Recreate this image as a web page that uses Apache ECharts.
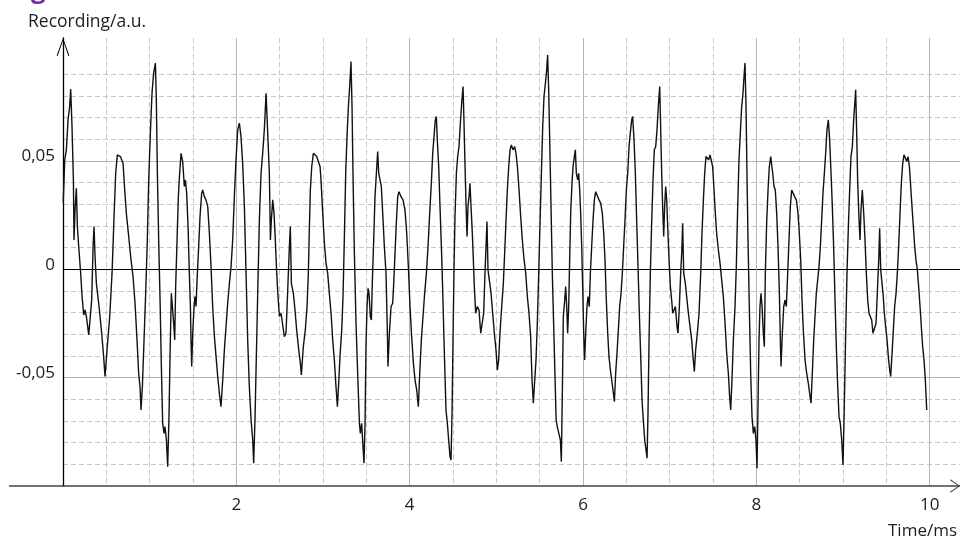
<!DOCTYPE html>
<html>
<head>
<meta charset="utf-8">
<script src="https://cdn.jsdelivr.net/npm/echarts@6/dist/echarts.min.js"></script>
<style>
html,body{margin:0;padding:0;background:#fff;}
#chart{width:960px;height:541px;}
</style>
</head>
<body>
<div id="chart"></div>
<script>
// ---- data: [time in ms, recording in a.u.] ----
const wave0to2 = [[0.003,0.031],[0.020,0.0505],[0.039,0.0551],[0.058,0.0689],[0.077,0.0751],[0.089,0.0831],[0.104,0.0658],[0.120,0.0412],[0.127,0.0135],[0.139,0.0274],[0.154,0.0374],[0.166,0.0197],[0.181,0.0105],[0.204,-0.0018],[0.220,-0.0126],[0.239,-0.0211],[0.254,-0.0188],[0.270,-0.0218],[0.297,-0.0303],[0.320,-0.0295],[0.331,-0.0142],[0.347,0.0105],[0.358,0.0197],[0.370,0.0058],[0.385,-0.0065],[0.416,-0.0172],[0.443,-0.028],[0.466,-0.0388],[0.485,-0.0495],[0.508,-0.0372],[0.539,-0.0218],[0.566,-0.0018],[0.589,0.0243],[0.608,0.0443],[0.627,0.0528],[0.647,0.0535],[0.662,0.052],[0.677,0.0528],[0.693,0.0489],[0.712,0.0366],[0.731,0.0258],[0.758,0.0151],[0.781,0.0058],[0.808,-0.0034],[0.831,-0.0157],[0.854,-0.0326],[0.873,-0.048],[0.889,-0.0542],[0.900,-0.0649],[0.916,-0.0542],[0.935,-0.0326],[0.954,-0.0111],[0.973,0.0135],[0.989,0.0412],[1.008,0.0628],[1.027,0.0812],[1.046,0.0905],[1.066,0.0951],[1.077,0.0782],[1.089,0.0443],[1.104,0.0135],[1.120,-0.0142],[1.135,-0.0449],[1.150,-0.0711],[1.166,-0.0757],[1.177,-0.0726],[1.193,-0.0788],[1.208,-0.0911],[1.223,-0.068],[1.235,-0.0403],[1.250,-0.0111],[1.262,-0.0111],[1.277,-0.0249],[1.289,-0.0326],[1.300,-0.008],[1.316,0.0135],[1.331,0.0335],[1.346,0.0443],[1.362,0.0535],[1.373,0.0535],[1.381,0.0497],[1.400,0.0382],[1.412,0.0412],[1.427,0.0351],[1.443,0.0197],[1.458,-0.0018],[1.470,-0.0172],[1.477,-0.0326],[1.485,-0.0449],[1.497,-0.0295],[1.512,-0.0172],[1.523,-0.0126],[1.535,-0.0172],[1.547,-0.0049],[1.562,0.0074],[1.581,0.0243],[1.600,0.0351],[1.612,0.0366],[1.631,0.0335],[1.650,0.032],[1.670,0.0289],[1.689,0.0166],[1.708,0.0012],[1.727,-0.0172],[1.747,-0.0311],[1.766,-0.0403],[1.785,-0.0495],[1.804,-0.0572],[1.823,-0.0634],[1.843,-0.0511],[1.862,-0.0372],[1.881,-0.0265],[1.900,-0.0157],[1.920,-0.0065],[1.939,0.0012],[1.958,0.0135],[1.977,0.0335],[1.996,0.0505]];
const wave2to4 = [[2.016,0.0643],[2.035,0.0674],[2.054,0.0612],[2.073,0.0489],[2.093,0.0289],[2.112,-0.0018],[2.131,-0.0326],[2.150,-0.0542],[2.170,-0.0695],[2.189,-0.0788],[2.200,-0.0895],[2.216,-0.068],[2.235,-0.0326],[2.250,-0.0049],[2.266,0.0228],[2.285,0.0443],[2.304,0.0535],[2.323,0.0643],[2.343,0.0812],[2.362,0.0628],[2.381,0.0443],[2.393,0.0135],[2.404,0.0228],[2.420,0.032],[2.435,0.0258],[2.450,0.0135],[2.466,-0.0018],[2.481,-0.0126],[2.497,-0.0218],[2.516,-0.0203],[2.535,-0.0203],[2.554,-0.0311],[2.573,-0.0295],[2.593,-0.0095],[2.612,0.0105],[2.623,0.0197],[2.635,-0.0065],[2.658,-0.0111],[2.677,-0.0188],[2.696,-0.028],[2.720,-0.0372],[2.739,-0.0434],[2.750,-0.0488],[2.773,-0.0357],[2.796,-0.028],[2.816,-0.0172],[2.831,-0.0018],[2.843,0.0197],[2.854,0.0366],[2.870,0.0474],[2.889,0.0535],[2.908,0.0543],[2.927,0.052],[2.946,0.0528],[2.966,0.0474],[2.977,0.0412],[2.997,0.0258],[3.016,0.012],[3.035,0.0028],[3.054,-0.0018],[3.073,-0.0111],[3.093,-0.0203],[3.112,-0.0326],[3.131,-0.0418],[3.150,-0.0542],[3.166,-0.0634],[3.181,-0.0526],[3.196,-0.0403],[3.216,-0.028],[3.231,-0.0126],[3.246,0.0135],[3.262,0.0443],[3.277,0.0612],[3.293,0.0751],[3.308,0.0843],[3.323,0.0958],[3.335,0.0751],[3.346,0.0443],[3.362,0.0074],[3.381,-0.0249],[3.400,-0.048],[3.420,-0.0711],[3.431,-0.0757],[3.446,-0.0711],[3.462,-0.0711],[3.473,-0.0895],[3.485,-0.0711],[3.496,-0.0357],[3.508,-0.0172],[3.520,-0.0088],[3.531,-0.0111],[3.546,-0.0218],[3.558,-0.0234],[3.570,-0.0049],[3.585,0.0135],[3.600,0.0335],[3.616,0.0443],[3.631,0.0543],[3.643,0.0443],[3.658,0.0412],[3.673,0.0382],[3.689,0.0258],[3.708,0.0105],[3.727,-0.0018],[3.743,-0.0295],[3.750,-0.0449],[3.766,-0.0295],[3.785,-0.0172],[3.804,-0.0157],[3.816,-0.0065],[3.831,0.0074],[3.846,0.0212],[3.862,0.0335],[3.877,0.0358],[3.900,0.0335],[3.923,0.032],[3.946,0.0274],[3.966,0.0166],[3.985,0.0012]];
const wave4to6 = [[4.004,-0.0172],[4.023,-0.0311],[4.043,-0.0434],[4.062,-0.0511],[4.081,-0.0557],[4.100,-0.0634],[4.116,-0.048],[4.135,-0.0326],[4.154,-0.0218],[4.173,-0.0111],[4.193,-0.0018],[4.212,0.0105],[4.231,0.0258],[4.250,0.0397],[4.266,0.0535],[4.281,0.0612],[4.296,0.0689],[4.308,0.0705],[4.319,0.0597],[4.335,0.0474],[4.350,0.0289],[4.366,0.0105],[4.381,-0.0095],[4.396,-0.0326],[4.408,-0.0495],[4.419,-0.0649],[4.435,-0.0711],[4.450,-0.0788],[4.466,-0.0865],[4.477,-0.088],[4.489,-0.0665],[4.500,-0.0326],[4.512,0.0012],[4.523,0.0243],[4.539,0.0443],[4.554,0.052],[4.569,0.0566],[4.585,0.0674],[4.600,0.0766],[4.616,0.0843],[4.627,0.0674],[4.639,0.0474],[4.650,0.0305],[4.662,0.0151],[4.673,0.0289],[4.685,0.0335],[4.696,0.0397],[4.708,0.0289],[4.723,0.0166],[4.735,0.0043],[4.746,-0.008],[4.762,-0.0203],[4.781,-0.0172],[4.800,-0.0188],[4.820,-0.0295],[4.839,-0.0295],[4.854,-0.0203],[4.869,-0.0018],[4.881,0.0105],[4.892,0.022],[4.904,-0.0003],[4.919,-0.0049],[4.939,-0.0111],[4.958,-0.0203],[4.977,-0.0295],[4.996,-0.0372],[5.012,-0.0465],[5.027,-0.0418],[5.042,-0.0295],[5.062,-0.0172],[5.081,-0.0065],[5.096,0.0074],[5.112,0.0228],[5.127,0.0366],[5.143,0.0474],[5.158,0.0551],[5.173,0.0574],[5.192,0.0551],[5.212,0.0566],[5.227,0.0535],[5.243,0.0474],[5.262,0.0366],[5.281,0.0243],[5.300,0.0135],[5.320,0.0043],[5.339,-0.0018],[5.358,-0.0126],[5.377,-0.0203],[5.396,-0.0311],[5.412,-0.0511],[5.427,-0.0618],[5.443,-0.0511],[5.458,-0.0418],[5.473,-0.0249],[5.489,-0.0018],[5.504,0.0212],[5.520,0.0443],[5.535,0.0658],[5.550,0.0797],[5.566,0.0858],[5.581,0.092],[5.592,0.0989],[5.604,0.0828],[5.616,0.0597],[5.631,0.0289],[5.646,-0.0018],[5.662,-0.0265],[5.677,-0.0495],[5.690,-0.0695],[5.703,-0.0726],[5.719,-0.0726],[5.739,-0.0788],[5.750,-0.0888],[5.762,-0.0557],[5.773,-0.0218],[5.789,-0.0142],[5.800,-0.008],[5.812,-0.0172],[5.823,-0.0295],[5.835,-0.0172],[5.846,0.0043],[5.858,0.0258],[5.873,0.0397],[5.885,0.0474],[5.900,0.052],[5.912,0.0551],[5.923,0.0443],[5.939,0.0412],[5.950,0.0443],[5.962,0.0366],[5.973,0.0258],[5.985,0.0105],[5.996,-0.008]];
const wave6to8 = [[6.008,-0.0295],[6.019,-0.0418],[6.031,-0.0295],[6.046,-0.0172],[6.058,-0.0126],[6.073,-0.0172],[6.085,-0.0018],[6.100,0.0105],[6.116,0.0228],[6.131,0.032],[6.146,0.0358],[6.166,0.0351],[6.185,0.032],[6.204,0.0305],[6.223,0.0258],[6.239,0.0166],[6.254,0.0043],[6.269,-0.0142],[6.285,-0.0295],[6.300,-0.0403],[6.316,-0.0465],[6.331,-0.0511],[6.346,-0.0557],[6.362,-0.0611],[6.377,-0.048],[6.392,-0.0388],[6.408,-0.028],[6.423,-0.0172],[6.439,-0.0111],[6.454,-0.0018],[6.469,0.0105],[6.485,0.0228],[6.500,0.0366],[6.516,0.0443],[6.531,0.0566],[6.546,0.0628],[6.562,0.0689],[6.573,0.0705],[6.589,0.0597],[6.604,0.0443],[6.619,0.0228],[6.635,0.0012],[6.650,-0.0203],[6.666,-0.0403],[6.681,-0.0603],[6.696,-0.0695],[6.712,-0.0788],[6.727,-0.0834],[6.739,-0.0872],[6.750,-0.0665],[6.762,-0.0326],[6.777,-0.0018],[6.792,0.0212],[6.808,0.0412],[6.823,0.0551],[6.839,0.0566],[6.854,0.0643],[6.869,0.0751],[6.885,0.0843],[6.896,0.0658],[6.908,0.0443],[6.919,0.0289],[6.931,0.0151],[6.942,0.0289],[6.954,0.0382],[6.966,0.032],[6.977,0.0197],[6.993,0.0043],[7.008,-0.008],[7.023,-0.0142],[7.035,-0.0203],[7.050,-0.0188],[7.066,-0.0172],[7.085,-0.0265],[7.096,-0.0295],[7.112,-0.0172],[7.127,-0.0018],[7.139,0.0074],[7.150,0.0212],[7.162,-0.0018],[7.181,-0.0065],[7.196,-0.0126],[7.216,-0.0203],[7.235,-0.0265],[7.254,-0.0326],[7.269,-0.0403],[7.285,-0.0472],[7.300,-0.0372],[7.319,-0.0295],[7.339,-0.0203],[7.358,-0.0018],[7.373,0.0166],[7.389,0.032],[7.404,0.0443],[7.419,0.052],[7.435,0.0528],[7.450,0.0505],[7.466,0.0528],[7.481,0.052],[7.496,0.0474],[7.512,0.0366],[7.527,0.0258],[7.542,0.0166],[7.562,0.0089],[7.581,0.0028],[7.600,-0.0049],[7.619,-0.0126],[7.639,-0.0249],[7.658,-0.0388],[7.677,-0.048],[7.692,-0.0588],[7.704,-0.0649],[7.719,-0.0511],[7.735,-0.0326],[7.754,-0.0172],[7.769,0.0012],[7.785,0.0289],[7.800,0.0505],[7.815,0.0628],[7.831,0.0751],[7.846,0.0812],[7.858,0.0889],[7.869,0.0951],[7.881,0.0751],[7.892,0.0443],[7.904,0.0135],[7.919,-0.0172],[7.935,-0.048],[7.950,-0.068],[7.966,-0.0757],[7.981,-0.0726],[7.996,-0.0788]];
const wave8to10 = [[8.008,-0.0918],[8.019,-0.0634],[8.031,-0.0326],[8.042,-0.0172],[8.054,-0.0111],[8.066,-0.0172],[8.081,-0.0295],[8.092,-0.0357],[8.104,-0.0018],[8.119,0.0212],[8.135,0.0366],[8.150,0.0474],[8.166,0.052],[8.177,0.0528],[8.189,0.0443],[8.204,0.0382],[8.219,0.0366],[8.235,0.0258],[8.250,0.0105],[8.266,-0.0111],[8.277,-0.0326],[8.285,-0.0449],[8.300,-0.0295],[8.316,-0.0172],[8.331,-0.0142],[8.346,-0.0172],[8.362,-0.0018],[8.377,0.0135],[8.392,0.0289],[8.408,0.0366],[8.423,0.0358],[8.442,0.0335],[8.462,0.032],[8.481,0.0258],[8.496,0.0166],[8.512,0.0043],[8.527,-0.0142],[8.542,-0.028],[8.562,-0.0418],[8.581,-0.048],[8.600,-0.0526],[8.615,-0.0572],[8.631,-0.0618],[8.646,-0.048],[8.662,-0.0326],[8.677,-0.0218],[8.692,-0.0111],[8.708,-0.0049],[8.723,0.0012],[8.739,0.0105],[8.754,0.0228],[8.769,0.0351],[8.785,0.0443],[8.800,0.0535],[8.815,0.0643],[8.831,0.0689],[8.846,0.0597],[8.862,0.0443],[8.877,0.0289],[8.892,0.0105],[8.908,-0.0142],[8.923,-0.0357],[8.939,-0.0542],[8.954,-0.068],[8.969,-0.0711],[8.985,-0.0788],[9.000,-0.0903],[9.015,-0.0634],[9.031,-0.0295],[9.046,-0.0018],[9.062,0.0197],[9.077,0.0366],[9.092,0.052],[9.108,0.0566],[9.123,0.0689],[9.139,0.0782],[9.146,0.0828],[9.158,0.0628],[9.169,0.0412],[9.185,0.0228],[9.196,0.0135],[9.208,0.0274],[9.223,0.0366],[9.239,0.0258],[9.254,0.0135],[9.269,-0.0018],[9.285,-0.0142],[9.300,-0.0203],[9.315,-0.0203],[9.331,-0.0234],[9.346,-0.0295],[9.365,-0.0303],[9.381,-0.0249],[9.396,-0.0111],[9.412,0.0043],[9.423,0.0189],[9.435,-0.0003],[9.446,-0.0049],[9.462,-0.0111],[9.477,-0.0203],[9.492,-0.0265],[9.508,-0.0326],[9.523,-0.0403],[9.539,-0.0465],[9.550,-0.0495],[9.566,-0.0388],[9.581,-0.028],[9.596,-0.0172],[9.612,-0.0111],[9.627,-0.0018],[9.642,0.0105],[9.658,0.0258],[9.673,0.0397],[9.689,0.0489],[9.704,0.0528],[9.719,0.0528],[9.735,0.0497],[9.750,0.052],[9.766,0.0474],[9.781,0.0382],[9.796,0.0289],[9.812,0.0197],[9.827,0.0105],[9.842,0.0043],[9.858,-0.0003],[9.873,-0.008],[9.889,-0.0172],[9.904,-0.0265],[9.919,-0.0357],[9.935,-0.0418],[9.950,-0.0511],[9.966,-0.0649]];

// axis ranges / tick values
const xRange = [0, 10.35];
const yRange = [-0.1, 0.1067];
const xMajorStep = 2, xMinorStep = 0.5;
const yMajorStep = 0.05, yMinorStep = 0.01;
const yLabelValues = [-0.05, 0, 0.05];
const xAxisTitle = 'Time/ms';
const yAxisTitle = 'Recording/a.u.';

const waveform = [].concat(wave0to2, wave2to4, wave4to6, wave6to8, wave8to10);

const FONT = '"Open Sans", "Noto Sans", sans-serif';
const TXT = '#1e1e1e';
const MINOR = '#c8c8c8';
const MAJOR = '#b4b4b4';
const T = 'rgba(0,0,0,0)';
// open chevron arrow heads (pointing "up" in symbol space)
const arrowY = 'path://M0,18 L6.5,0 L13,18 L12,18.4 L6.5,2.6 L1,18.4 Z';
const arrowX = 'path://M0,10 L7,0 L14,10 L13,10.5 L7,1.6 L1,10.5 Z';

function fmtY(v) {
  for (const t of yLabelValues) {
    if (Math.abs(v - t) < 1e-9) return t === 0 ? '0' : t.toFixed(2).replace('.', ',');
  }
  return '';
}

const chart = echarts.init(document.getElementById('chart'), null, {renderer: 'canvas'});
chart.setOption({
  animation: false,
  backgroundColor: '#fff',
  grid: {left: 63, right: 0, top: 38, bottom: 55, outerBoundsMode: 'none', containLabel: false},
  xAxis: [
    {
      type: 'value', min: xRange[0], max: xRange[1], interval: xMajorStep,
      axisLine: {show: true, onZero: false, lineStyle: {color: '#444', width: 1.5},
        symbol: ['none', arrowX], symbolSize: [14, 10], symbolOffset: [0, -5]},
      axisTick: {show: false},
      axisLabel: {show: true, showMinLabel: false, showMaxLabel: false, margin: 11,
        fontFamily: FONT, fontSize: 17, color: TXT,
        formatter: v => String(Math.round(v))},
      splitLine: {show: true, showMaxLine: false, lineStyle: {color: MAJOR, width: 1, type: 'solid'}}
    },
    {
      type: 'value', min: xRange[0], max: xRange[1], interval: xMinorStep, position: 'bottom',
      axisLine: {show: false}, axisTick: {show: false}, axisLabel: {show: false},
      splitLine: {show: true, showMaxLine: false, lineStyle: {color: [T, MINOR, MINOR, MINOR], width: 1, type: [5, 3]}}
    }
  ],
  yAxis: [
    {
      type: 'value', min: yRange[0], max: yRange[1], interval: yMajorStep,
      axisLine: {show: true, onZero: false, lineStyle: {color: '#000', width: 1.3},
        symbol: ['none', arrowY], symbolSize: [13, 18], symbolOffset: [0, -9]},
      axisTick: {show: false},
      axisLabel: {show: true, showMinLabel: false, showMaxLabel: false, margin: 8,
        fontFamily: FONT, fontSize: 17, color: TXT, verticalAlign: 'bottom', lineHeight: 9,
        formatter: fmtY},
      splitLine: {show: true, showMaxLine: false, lineStyle: {color: [T, MAJOR, '#000', MAJOR, T, T], width: 1, type: 'solid'}}
    },
    {
      type: 'value', min: yRange[0], max: yRange[1], interval: yMinorStep, position: 'left',
      axisLine: {show: false}, axisTick: {show: false}, axisLabel: {show: false},
      splitLine: {show: true, showMaxLine: false, lineStyle: {color: [T, MINOR, MINOR, MINOR, MINOR], width: 1, type: [5, 3]}}
    }
  ],
  series: [{
    type: 'line',
    xAxisIndex: 0, yAxisIndex: 0,
    data: waveform,
    showSymbol: false,
    symbol: 'none',
    smooth: false,
    sampling: null,
    lineStyle: {color: '#111', width: 1.4},
    z: 5
  }],
  graphic: [
    {type: 'line', z: 10, shape: {x1: 9, y1: 486, x2: 63, y2: 486}, style: {stroke: '#444', lineWidth: 1.5}},
    {type: 'text', z: 10, left: 28, top: 13, style: {text: yAxisTitle, font: '17.5px ' + FONT, fill: TXT}},
    {type: 'text', z: 10, left: 888, top: 523, style: {text: xAxisTitle, font: '17px ' + FONT, fill: TXT}},
    {type: 'text', z: 10, left: 31, top: -22, style: {text: 'g', font: 'bold 26px ' + FONT, fill: '#6f2da8'}}
  ]
});
</script>
</body>
</html>
